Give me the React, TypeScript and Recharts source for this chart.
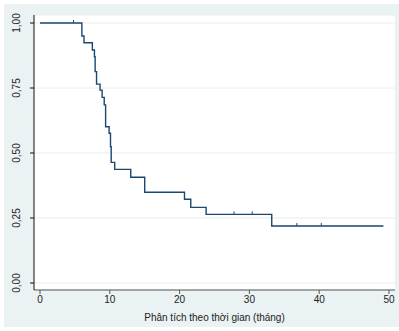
import React from "react";
import {
  ComposedChart,
  Line,
  Scatter,
  XAxis,
  YAxis,
  CartesianGrid,
} from "recharts";

// Kaplan-Meier survival estimate
const times = [
  0, 6.0, 6.3, 7.5, 7.8, 7.9, 8.1, 8.6, 8.9, 9.2, 9.4, 9.9, 10.1, 10.2, 10.7,
  13.0, 15.0, 20.7, 21.6, 23.8, 33.2, 49.2,
];
const survival = [
  1.0, 0.95, 0.924, 0.896, 0.87, 0.813, 0.765, 0.742, 0.714, 0.685, 0.601,
  0.576, 0.524, 0.464, 0.437, 0.407, 0.349, 0.322, 0.291, 0.264, 0.219, 0.219,
];

// censored observations
const censorTimes = [4.8, 27.8, 30.4, 36.8, 40.3];
const censorSurvival = [1.0, 0.264, 0.264, 0.219, 0.219];

const xTicks = [0, 10, 20, 30, 40, 50];
const yTicks = [0, 0.25, 0.5, 0.75, 1];

const curve = times.map((t, i) => ({ t, s: survival[i] }));
const censored = censorTimes.map((t, i) => ({ t, c: censorSurvival[i] }));

const fmt = (v: number) => v.toFixed(2).replace(".", ",");

const YTick = (props: any) => {
  const { x, y, payload } = props;
  return (
    <text
      x={x - 8}
      y={y}
      transform={`rotate(-90, ${x - 8}, ${y})`}
      textAnchor="middle"
      fontSize={10}
      fill="#222"
      fontFamily="Liberation Sans, Arial, sans-serif"
    >
      {fmt(payload.value)}
    </text>
  );
};

const CensorMark = (props: any) => {
  const { cx, cy } = props;
  return <line x1={cx} x2={cx} y1={cy - 3} y2={cy} stroke="#1a476f" strokeWidth={1} />;
};

export default function App() {
  return (
    <div
      style={{
        position: "absolute",
        left: 0,
        top: 0,
        width: 399,
        height: 331,
        background: "#fff",
      }}
    >
      <div
        style={{
          position: "absolute",
          left: 4,
          top: 4,
          width: 395,
          height: 323,
          background: "#eaf2f3",
        }}
      />
      <div style={{ position: "absolute", left: 0, top: 0 }}>
        <ComposedChart
          width={399}
          height={331}
          data={curve}
          margin={{ top: 15, right: 4, left: 0, bottom: 0 }}
          style={{ fontFamily: "Liberation Sans, Arial, sans-serif" }}
        >
          <CartesianGrid
            vertical={false}
            fill="#fff"
            stroke="#e6eef0"
            strokeWidth={1}
          />
          <XAxis
            type="number"
            dataKey="t"
            domain={[0, 50]}
            ticks={xTicks}
            height={41}
            padding={{ left: 6, right: 6 }}
            tickSize={4}
            tickMargin={2}
            stroke="#555"
            tick={{ fontSize: 10, fill: "#222" }}
            label={{
              value: "Phân tích theo thời gian (tháng)",
              position: "insideBottom",
              offset: 10,
              fontSize: 10,
              fill: "#222",
            }}
          />
          <YAxis
            type="number"
            domain={[0, 1]}
            ticks={yTicks}
            width={34}
            padding={{ top: 8, bottom: 7 }}
            tickSize={4}
            stroke="#111"
            tick={<YTick />}
          />
          <Line
            type="stepAfter"
            dataKey="s"
            stroke="#1a476f"
            strokeWidth={1.4}
            dot={false}
            isAnimationActive={false}
          />
          <Scatter
            data={censored}
            dataKey="c"
            shape={<CensorMark />}
            isAnimationActive={false}
          />
        </ComposedChart>
      </div>
    </div>
  );
}
